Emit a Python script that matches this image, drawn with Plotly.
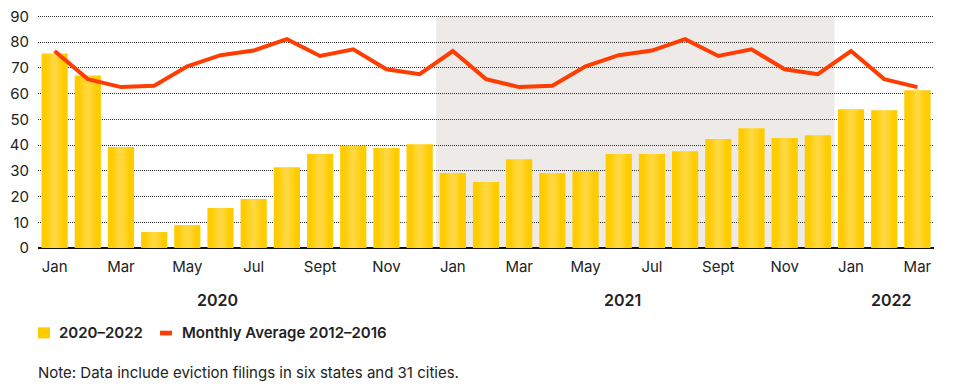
import plotly.graph_objects as go

month_names = ["Jan", "Feb", "Mar", "Apr", "May", "Jun", "Jul", "Aug", "Sept", "Oct", "Nov", "Dec"]
years = [2020, 2021, 2022]
categories = [f"{m} {y}" for y in years for m in month_names][:27]

filings_2020_2022 = [75.5, 67.0, 39.2, 6.2, 8.9, 15.5, 19.0, 31.4, 36.5, 39.7, 38.8, 40.3,
                     29.1, 25.6, 34.5, 29.1, 29.9, 36.5, 36.5, 37.6, 42.3, 46.5, 42.7, 43.8,
                     53.9, 53.5, 61.3]
monthly_avg_2012_2016 = [76.5, 65.6, 62.5, 63.0, 70.6, 74.9, 76.7, 81.1, 74.6, 77.2, 69.4, 67.5,
                         76.5, 65.6, 62.5, 63.0, 70.6, 74.9, 76.7, 81.1, 74.6, 77.2, 69.4, 67.5,
                         76.5, 65.6, 62.5]
tick_labels = ["Jan", "Mar", "May", "Jul", "Sept", "Nov"] * 2 + ["Jan", "Mar"]
year_labels = ["2020", "2021", "2022"]
year_label_pos = [4.9, 17.1, 25.2]
legend_labels = ["2020–2022", "Monthly Average 2012–2016"]
note = "Note: Data include eviction filings in six states and 31 cities."

FONT = "Inter"
TXT = "#222222"
BAR = "#FFCC00"
LINE = "#FF3D00"

fig = go.Figure()
fig.add_trace(go.Bar(x=categories, y=filings_2020_2022, marker_color=BAR, width=0.79,
                     marker_line_width=0, name=legend_labels[0], showlegend=False))
# soft highlight in bar centres (gradient look)
for w in [0.45, 0.3, 0.15]:
    fig.add_trace(go.Bar(x=categories, y=filings_2020_2022, width=w,
                         marker_color="rgba(255,255,255,0.09)", marker_line_width=0,
                         showlegend=False, hoverinfo="skip"))
fig.add_trace(go.Scatter(x=categories, y=monthly_avg_2012_2016, mode="lines",
                         line=dict(color=LINE, width=4), name=legend_labels[1], showlegend=False))

# shaded 2021 band
fig.add_shape(type="rect", xref="x", yref="y", x0=11.5, x1=23.5, y0=0, y1=90,
              fillcolor="#EEEAE7", line_width=0, layer="below")

# manual legend
fig.add_shape(type="rect", xref="paper", yref="paper", x0=0.0, x1=0.0134, y0=-0.388, y1=-0.3405,
              fillcolor=BAR, line_width=0)
fig.add_shape(type="rect", xref="paper", yref="paper", x0=0.1362, x1=0.1496, y0=-0.375, y1=-0.355,
              fillcolor=LINE, line_width=0)
fig.add_annotation(x=0.021, y=-0.362, xref="paper", yref="paper", text=legend_labels[0],
                   showarrow=False, xanchor="left", yanchor="middle",
                   font=dict(family=FONT, size=15, color=TXT, weight=600))
fig.add_annotation(x=0.159, y=-0.362, xref="paper", yref="paper", text=legend_labels[1],
                   showarrow=False, xanchor="left", yanchor="middle",
                   font=dict(family=FONT, size=15, color=TXT, weight=600))
fig.add_annotation(x=-0.002, y=-0.534, xref="paper", yref="paper", text=note,
                   showarrow=False, xanchor="left", yanchor="middle",
                   font=dict(family=FONT, size=15, color=TXT))

for lbl, pos in zip(year_labels, year_label_pos):
    fig.add_annotation(x=pos, y=-0.224, xref="x", yref="paper", text=lbl, showarrow=False,
                       xanchor="center", yanchor="middle",
                       font=dict(family=FONT, size=16, color=TXT, weight=600))

fig.update_layout(
    width=956, height=378,
    margin=dict(l=30, r=30, t=7, b=138),
    paper_bgcolor="white", plot_bgcolor="white",
    barmode="overlay",
    font=dict(family=FONT, size=15, color=TXT),
    showlegend=False,
)
fig.update_xaxes(type="category", tickmode="array", tickvals=categories[::2], ticktext=tick_labels,
                 showgrid=False, showline=False, ticks="", ticklabelstandoff=8,
                 automargin=False,
                 tickfont=dict(family=FONT, size=15, color=TXT), range=[-0.5, 26.5])
fig.update_yaxes(range=[0, 90.5], tickvals=list(range(0, 100, 10)), showgrid=True,
                 gridcolor="#333333", griddash="1px,1px",
                 gridwidth=1, zeroline=True, zerolinecolor="#111111", zerolinewidth=2,
                 showline=False, ticks="", ticklabelstandoff=8, automargin=False,
                 ticklabeloverflow="allow",
                 tickfont=dict(family=FONT, size=15, color=TXT))

fig.write_html("out.html")
